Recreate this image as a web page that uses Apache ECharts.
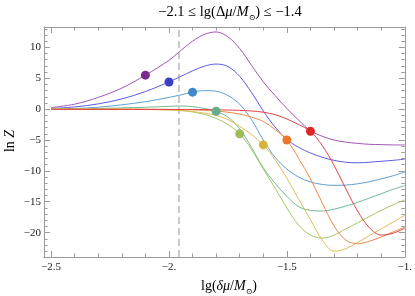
<!DOCTYPE html>
<html><head><meta charset="utf-8">
<script src="https://cdn.jsdelivr.net/npm/echarts@6/dist/echarts.min.js"></script>
<style>html,body{margin:0;padding:0;background:#fff}#c{width:415px;height:296px}</style>
</head><body><div id="c"></div>
<script>
// sample positions lg(δμ/M⊙)
const xValues = [-2.5,-2.4,-2.3,-2.2,-2.1,-2.0,-1.95,-1.9,-1.85,-1.8,-1.75,-1.7,-1.65,-1.6,-1.55,-1.5,-1.45,-1.4,-1.35,-1.3,-1.25,-1.2,-1.15,-1.1,-1.05,-1.0];
// ln Z curves, one per lg(Δμ/M⊙)
const curveM21 = [0.25,0.8,1.9,3.4,5.5,7.9,9.5,11.0,12.1,12.5,11.7,9.8,7.1,4.4,2.2,0.1,-1.8,-3.5,-4.4,-5.0,-5.35,-5.55,-5.7,-5.75,-5.8,-5.8];
const curveM20 = [0.1,0.35,0.85,1.65,2.85,4.4,5.3,6.2,6.95,7.3,6.9,5.3,2.7,-0.3,-2.9,-4.9,-6.2,-7.1,-7.8,-8.3,-8.6,-8.7,-8.6,-8.45,-8.3,-8.1];
const curveM19 = [0.0,0.1,0.3,0.7,1.2,1.9,2.3,2.75,3.0,2.9,2.2,0.8,-1.7,-5.0,-7.8,-9.7,-11.0,-11.8,-12.2,-12.35,-12.3,-12.1,-11.75,-11.3,-10.8,-10.2];
const curveM18 = [0.0,0.05,0.1,0.2,0.3,0.45,0.5,0.4,0.1,-0.35,-1.3,-3.2,-6.2,-9.5,-12.0,-14.1,-15.8,-16.4,-16.5,-16.2,-15.7,-15.1,-14.4,-13.7,-13.0,-12.4];
const curveM17 = [0,0,0,-0.02,-0.05,-0.1,-0.2,-0.45,-0.85,-1.5,-2.5,-4.0,-6.5,-9.7,-12.8,-16.0,-18.8,-20.4,-20.9,-20.4,-19.4,-18.4,-17.4,-16.4,-15.5,-14.7];
const curveM16 = [0,0,0,-0.02,-0.05,-0.15,-0.25,-0.4,-0.65,-1.0,-1.7,-2.8,-4.1,-5.8,-8.2,-11.2,-14.6,-17.9,-21.2,-23.0,-22.6,-21.6,-20.5,-19.4,-18.3,-17.2];
const curveM15 = [0,0,0,0,-0.02,-0.05,-0.08,-0.12,-0.2,-0.3,-0.5,-0.8,-1.3,-2.0,-3.3,-5.0,-8.0,-11.3,-15.2,-18.9,-21.2,-21.8,-21.4,-20.7,-19.9,-19.1];
const curveM14 = [-0.05,-0.05,-0.05,-0.05,-0.05,-0.05,-0.05,-0.05,-0.08,-0.1,-0.15,-0.2,-0.3,-0.5,-0.9,-1.6,-2.5,-3.6,-5.9,-9.1,-12.9,-16.5,-19.2,-20.4,-20.1,-19.3];
// marked point of each curve (its own Δμ)
const markerX = [-2.1,-2.0,-1.9,-1.8,-1.7,-1.6,-1.5,-1.4];
const dashedX = -1.96;
// ticks
const xMajorTicks = [-2.5,-2.0,-1.5,-1.0];
const xTickLabels = ['\u22122.5','\u22122.','\u22121.5','\u22121.'];
const xMinorTicks = [-2.4,-2.3,-2.2,-2.1,-1.9,-1.8,-1.7,-1.6,-1.4,-1.3,-1.2,-1.1];
const yMajorTicks = [-20,-15,-10,-5,0,5,10];
const yTickLabels = ['\u221220','\u221215','\u221210','\u22125','0','5','10'];
const yMinorTicks = [-23,-22,-21,-19,-18,-17,-16,-14,-13,-12,-11,-9,-8,-7,-6,-4,-3,-2,-1,1,2,3,4,6,7,8,9,11,12,13];

const curves = [curveM21,curveM20,curveM19,curveM18,curveM17,curveM16,curveM15,curveM14];
const lineColors = ['#a355b5','#5b5ce0','#5e9fd8','#74b898','#a6c866','#e0be55','#ef8a45','#e04545'];
const dotColors = ['#7a2b8c','#3c3dc9','#3e88cc','#64ae8c','#9abd56','#d7b53d','#e97a2d','#dd2727'];

const X_MIN=-2.53, X_MAX=-1.0, Y_MIN=-23.95, Y_MAX=13.3;
const FRAME='#9a9a9a';
const SERIF='"Liberation Serif","DejaVu Serif",serif';

function lab(vals, labels){ return v => { const i = vals.findIndex(t => Math.abs(t-v)<1e-6); return i>=0 ? labels[i] : ''; }; }
function xAx(pos, ticks, len, major){
  return {type:'value', position:pos, min:X_MIN, max:X_MAX, gridIndex:0,
    axisLine:{show:major, onZero:false, lineStyle:{color:FRAME,width:1}},
    axisTick:{show:true, inside:true, length:len, customValues:ticks, lineStyle:{color:FRAME,width:1}},
    axisLabel:{show: major && pos==='bottom', customValues:xMajorTicks, formatter:lab(xMajorTicks,xTickLabels), margin:5, fontFamily:SERIF, fontSize:11, color:'#222'},
    splitLine:{show:false}};
}
function yAx(pos, ticks, len, major){
  return {type:'value', position:pos, min:Y_MIN, max:Y_MAX, gridIndex:0,
    axisLine:{show:major, onZero:false, lineStyle:{color:FRAME,width:1}},
    axisTick:{show:true, inside:true, length:len, customValues:ticks, lineStyle:{color:FRAME,width:1}},
    axisLabel:{show: major && pos==='left', customValues:yMajorTicks, formatter:lab(yMajorTicks,yTickLabels), margin:3, fontFamily:SERIF, fontSize:11, color:'#222'},
    splitLine:{show:false}};
}

const series = curves.map((c, k) => ({
  type:'line', xAxisIndex:0, yAxisIndex:0, smooth:0.35, showSymbol:false, z:2+k,
  data: xValues.map((x,i)=>[x,c[i]]),
  lineStyle:{color:lineColors[k], width:1}
}));
series[0].markLine = {silent:true, symbol:['none','none'], label:{show:false}, z:1,
  lineStyle:{type:[7,4], color:'#bdbdbd', width:1.6}, data:[{xAxis:dashedX}]};
series.push({type:'scatter', xAxisIndex:0, yAxisIndex:0, z:20, symbolSize:9,
  data: markerX.map((x,k)=>({value:[x, curves[k][xValues.findIndex(v=>Math.abs(v-x)<1e-9)]], itemStyle:{color:dotColors[k], opacity:1}}))});

const rich = {
  r:{fontFamily:SERIF, fontSize:14, color:'#111'},
  i:{fontFamily:SERIF, fontSize:14, fontStyle:'italic', color:'#111'},
  s:{fontFamily:SERIF, fontSize:8, color:'#111', verticalAlign:'bottom', lineHeight:8},
  t:{fontFamily:SERIF, fontSize:14.5, color:'#111', lineHeight:19},
  ti:{fontFamily:SERIF, fontSize:14.5, fontStyle:'italic', color:'#111', lineHeight:19}
};

const chart = echarts.init(document.getElementById('c'), null, {renderer:'canvas'});
chart.setOption({
  animation:false,
  backgroundColor:'#fff',
  grid:{left:44, right:7, top:27, bottom:39, containLabel:false},
  xAxis:[xAx('bottom',xMajorTicks,6,true), xAx('bottom',xMinorTicks,3.5,false), xAx('top',xMajorTicks,6,true), xAx('top',xMinorTicks,3.5,false)],
  yAxis:[yAx('left',yMajorTicks,6,true), yAx('left',yMinorTicks,3.5,false), yAx('right',yMajorTicks,6,true), yAx('right',yMinorTicks,3.5,false)],
  series: series,
  graphic:[
    {type:'text', x:230, y:12, style:{text:'{t|\u22122.1 \u2264 lg(\u0394}{ti|\u03bc}{t|/}{ti|M}{s|\u2299}{t|) \u2264 \u22121.4}', rich:rich, align:'center', verticalAlign:'middle'}},
    {type:'text', x:10, y:141, rotation:Math.PI/2, style:{text:'{r|ln }{i|Z}', rich:rich, align:'center', verticalAlign:'middle'}},
    {type:'text', x:229, y:286, style:{text:'{r|lg(}{i|\u03b4\u03bc}{r|/}{i|M}{s|\u2299}{r|)}', rich:Object.assign({}, rich, {r:{fontFamily:SERIF,fontSize:14,color:'#111',lineHeight:19}, i:{fontFamily:SERIF,fontSize:14,fontStyle:'italic',color:'#111',lineHeight:19}}), align:'center', verticalAlign:'middle'}}
  ]
});
</script></body></html>
